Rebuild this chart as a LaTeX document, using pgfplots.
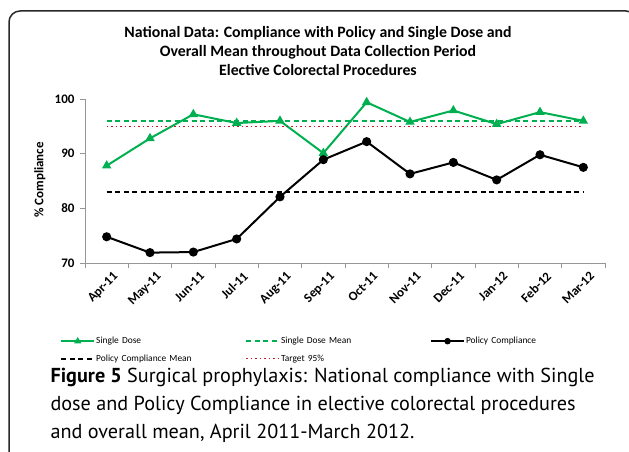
\documentclass[border=0pt]{standalone}
\usepackage{pgfplots}
\pgfplotsset{compat=1.18}
\usepackage{fontspec}
\setmainfont{Carlito}
\newfontfamily\capfont{PT Sans}
\definecolor{sdgreen}{RGB}{0,176,80}
\definecolor{tgtred}{RGB}{200,20,40}
\definecolor{framegray}{RGB}{40,40,40}
\definecolor{axgray}{RGB}{150,150,150}
\begin{document}
\begin{tikzpicture}[x=1pt,y=1pt]
\path[use as bounding box] (0,0) rectangle (629,451);
\begin{scope}
\clip (0,0) rectangle (629,451);
\draw[framegray, line width=1.5pt, rounded corners=11pt] (9,-30) rectangle (637,440);
\end{scope}
\node[font=\bfseries\fontsize{15.8}{19}\selectfont, align=center] at (318,400) {National Data: Compliance with Policy and Single Dose and\\Overall Mean throughout Data Collection Period\\Elective Colorectal Procedures};
\begin{axis}[
  at={(85pt,188pt)}, anchor=south west,
  scale only axis, width=520pt, height=164pt,
  xmin=-0.5, xmax=11.5, ymin=70, ymax=100,
  ytick={70,80,90,100},
  axis x line*=bottom, axis y line*=left,
  axis line style={axgray, line width=0.8pt},
  tick style={axgray, line width=0.8pt},
  tick align=outside, major tick length=5pt, minor tick length=5pt,
  xtick={0,1,2,3,4,5,6,7,8,9,10,11},
  xticklabels={Apr-11,May-11,Jun-11,Jul-11,Aug-11,Sep-11,Oct-11,Nov-11,Dec-11,Jan-12,Feb-12,Mar-12},
  minor xtick={-0.5,0.5,...,11.5},
  major x tick style={draw=none},
  x tick label style={rotate=45, anchor=north east, inner sep=1pt, yshift=-5pt, xshift=3pt},
  y tick label style={xshift=-2pt},
  ticklabel style={font=\bfseries\fontsize{13}{15}\selectfont},
  /pgf/number format/assume math mode=true,
  ylabel={\% Compliance},
  ylabel style={at={(axis description cs:-0.087,0.506)}, anchor=center, font=\bfseries\fontsize{13}{15}\selectfont},
  legend columns=3,
  legend image code/.code={\draw[mark repeat=2,mark phase=2,#1,mark size=2.2pt] plot coordinates {(0pt,0pt) (16.5pt,0pt) (33pt,0pt)};},
  legend style={at={(-0.048,-0.445)}, anchor=north west, draw=none, fill=none, inner sep=0pt,
    font=\fontsize{9.4}{11}\selectfont, row sep=7.5pt,
    nodes={text width=148pt, align=left, inner sep=1pt}},
]
\addplot[sdgreen, line width=2pt, mark=triangle*, mark size=3.5pt] coordinates {
(0,87.8) (1,92.8) (2,97.2) (3,95.6) (4,96.0) (5,90.1) (6,99.4) (7,95.8) (8,97.9) (9,95.4) (10,97.6) (11,96.0)};
\addlegendentry{Single Dose}
\addplot[sdgreen, line width=1.8pt, dash pattern=on 5pt off 3.5pt] coordinates {(0,96) (11,96)};
\addlegendentry{Single Dose Mean}
\addplot[black, line width=2pt, mark=*, mark size=3.5pt] coordinates {
(0,74.8) (1,71.9) (2,72.0) (3,74.4) (4,82.1) (5,88.9) (6,92.2) (7,86.3) (8,88.4) (9,85.2) (10,89.8) (11,87.5)};
\addlegendentry{Policy Compliance}
\addplot[black, line width=2pt, dash pattern=on 5pt off 3.5pt] coordinates {(0,83) (11,83)};
\addlegendentry{Policy Compliance Mean}
\addplot[tgtred, line width=1.5pt, dash pattern=on 1.5pt off 3pt] coordinates {(0,95) (11,95)};
\addlegendentry{Target 95\%}
\end{axis}
\node[anchor=base west, font=\capfont\fontsize{20.2}{22}\selectfont] at (47,69) {\textbf{Figure 5} Surgical prophylaxis: National compliance with Single};
\node[anchor=base west, font=\capfont\fontsize{20.2}{22}\selectfont] at (47,41) {dose and Policy Compliance in elective colorectal procedures};
\node[anchor=base west, font=\capfont\fontsize{20.2}{22}\selectfont] at (47,13) {and overall mean, April 2011-March 2012.};
\end{tikzpicture}
\end{document}
